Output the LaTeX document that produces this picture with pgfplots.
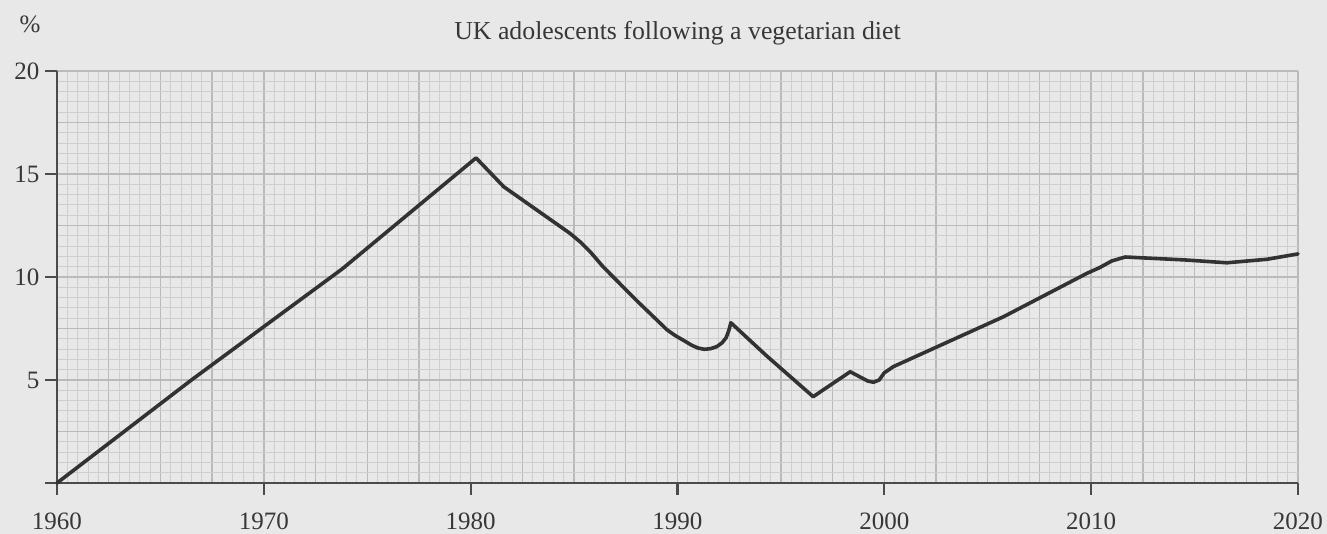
\documentclass[border=0pt]{standalone}
\usepackage{fontspec}
\setmainfont{Liberation Serif}
\usepackage{pgfplots}
\pgfplotsset{compat=1.18}
\definecolor{paper}{RGB}{232,232,232}
\definecolor{minorg}{RGB}{206,206,206}
\definecolor{majorg}{RGB}{186,186,186}
\definecolor{axisc}{RGB}{75,75,75}
\definecolor{linec}{RGB}{50,50,50}
\definecolor{textc}{RGB}{55,55,55}
\begin{document}
\begin{tikzpicture}
\fill[paper] (0,0) rectangle (1327pt,534pt);
\useasboundingbox (0,0) rectangle (1327pt,534pt);
% graph-paper grid
\begin{axis}[
  at={(57pt,51pt)}, anchor=south west, scale only axis,
  width=1241pt, height=412pt,
  xmin=1960, xmax=2020, ymin=0, ymax=20,
  xtick distance=2.5, ytick distance=2.5, minor tick num=4,
  grid=both,
  major grid style={draw=majorg, line width=1.4pt},
  minor grid style={draw=minorg, line width=0.9pt},
  axis line style={draw=none},
  tick style={draw=none},
  xticklabels={}, yticklabels={},
]
\end{axis}
% axes and data
\begin{axis}[
  at={(57pt,51pt)}, anchor=south west, scale only axis,
  width=1241pt, height=412pt,
  xmin=1960, xmax=2020, ymin=0, ymax=20,
  axis lines*=left,
  axis line style={draw=axisc, line width=2.3pt},
  tick align=outside,
  major tick length=12pt,
  tick style={draw=axisc, line width=2.3pt},
  xtick={1960,1970,...,2020},
  ytick={0,5,10,15,20},
  yticklabels={,5,10,15,20},
  xticklabel style={font=\fontsize{25}{29}\selectfont, text=textc, yshift=-14pt},
  yticklabel style={font=\fontsize{25}{29}\selectfont, text=textc, xshift=-2pt},
  /pgf/number format/assume math mode=true,
  /pgf/number format/1000 sep={},
  clip=false,
]
\addplot[draw=linec, line width=3.6pt, line join=round, line cap=round] coordinates {
(1960,0)
(1966.5,5.0)
(1973.8,10.4)
(1980.26,15.78)
(1981.6,14.38)
(1983.2,13.25)
(1984.8,12.12)
(1985.3,11.7)
(1985.8,11.2)
(1986.4,10.5)
(1988.0,8.88)
(1989.5,7.43)
(1989.9,7.15)
(1990.3,6.92)
(1990.7,6.68)
(1991.0,6.55)
(1991.3,6.49)
(1991.6,6.52)
(1991.9,6.62)
(1992.15,6.8)
(1992.35,7.05)
(1992.48,7.4)
(1992.58,7.78)
(1994.3,6.18)
(1996.56,4.19)
(1998.35,5.40)
(1999.2,4.95)
(1999.47,4.89)
(1999.75,5.0)
(2000.0,5.35)
(2000.44,5.65)
(2005.76,8.07)
(2009.8,10.18)
(2010.4,10.45)
(2011.0,10.78)
(2011.65,10.97)
(2014.5,10.83)
(2016.56,10.69)
(2018.5,10.86)
(2020,11.12)
};
\end{axis}
\node[anchor=base, text=textc, font=\fontsize{25.8}{30}\selectfont] at (677.5pt,494pt) {UK adolescents following a vegetarian diet};
\node[anchor=base, text=textc, font=\fontsize{25}{29}\selectfont] at (30pt,501pt) {\%};
\end{tikzpicture}
\end{document}
